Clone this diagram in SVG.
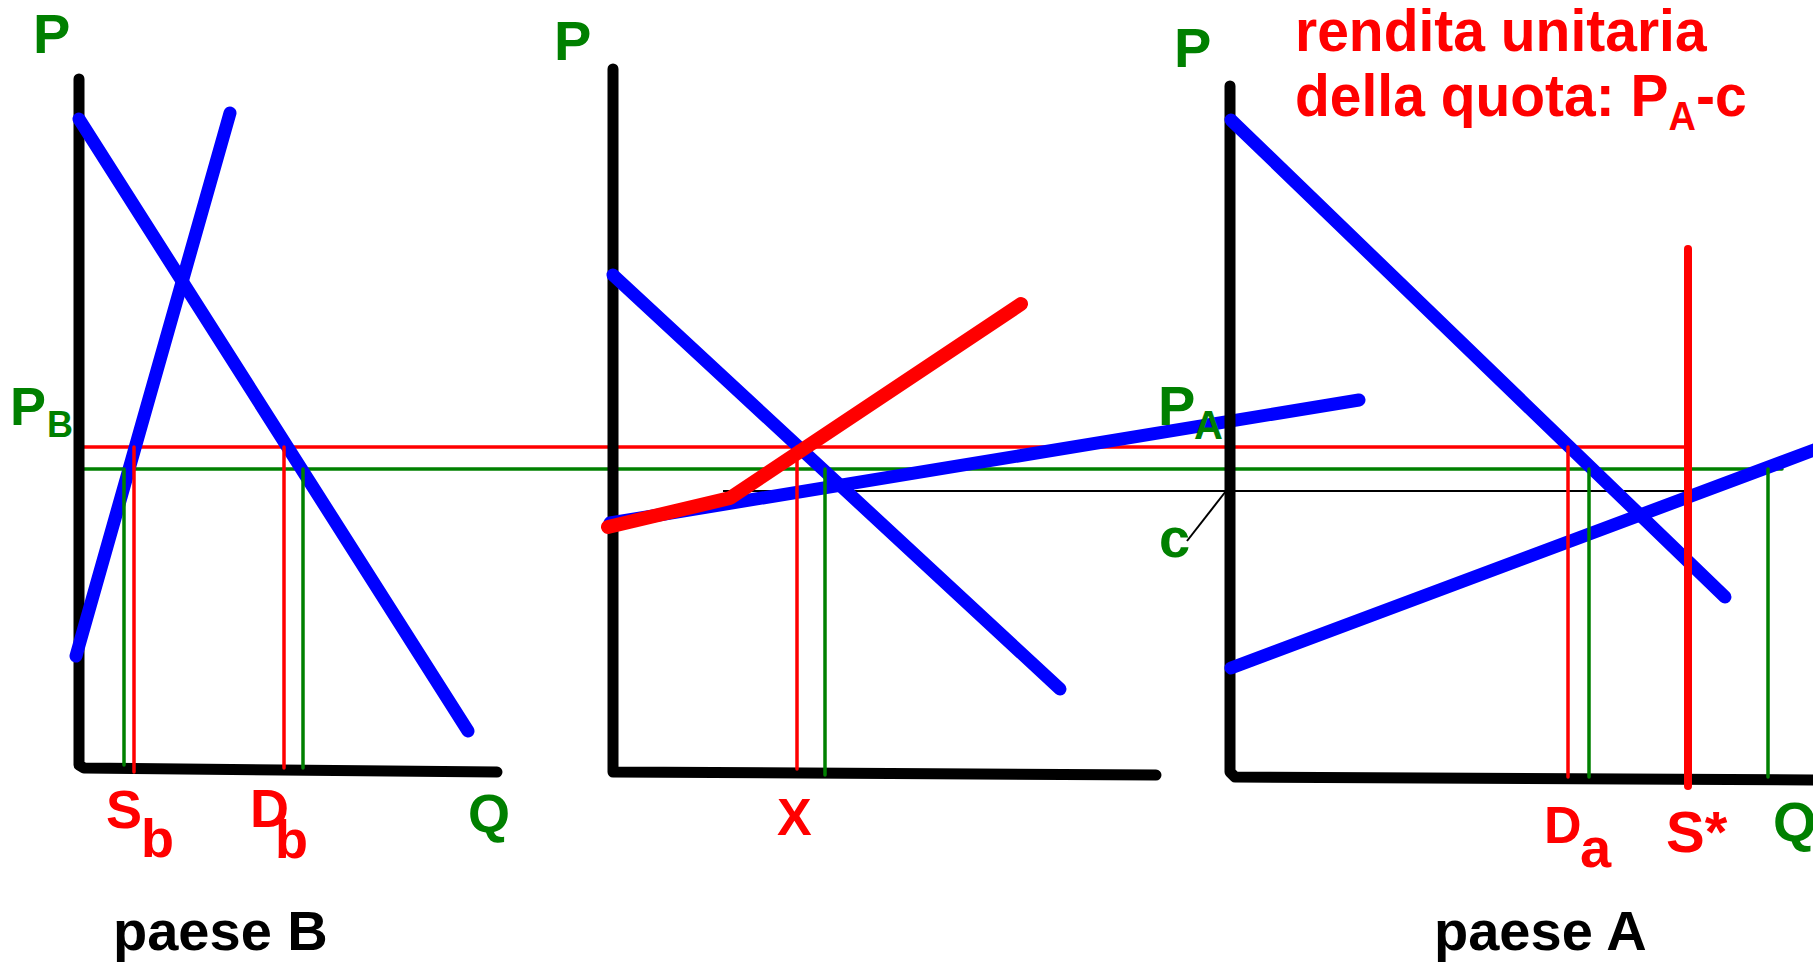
<svg xmlns="http://www.w3.org/2000/svg" width="1813" height="970" viewBox="0 0 1813 970">
<style>
.ax{fill:none;stroke:#000;stroke-width:11;stroke-linecap:round;stroke-linejoin:round}
.bl{fill:none;stroke:#0000FF;stroke-width:13;stroke-linecap:round}
.rk{fill:none;stroke:#FF0000;stroke-width:14;stroke-linecap:round;stroke-linejoin:round}
.rt{fill:none;stroke:#FF0000;stroke-width:3.5;stroke-linecap:round}
.gt{fill:none;stroke:#008000;stroke-width:3.5;stroke-linecap:round}
.kt{fill:none;stroke:#000;stroke-width:2}
text{font-family:"Liberation Sans",Arial,sans-serif;font-weight:bold}
.g{fill:#008000}
.r{fill:#FF0000}
.k{fill:#000}
</style>
<rect width="1813" height="970" fill="#fff"/>
<g id="connectors">
<line class="rt" x1="76" y1="447" x2="1688" y2="447"/>
<line class="gt" x1="83" y1="469" x2="1782" y2="469"/>
<line class="kt" x1="723" y1="491" x2="1688" y2="491"/>
<line class="kt" x1="1187" y1="541" x2="1226" y2="491"/>
</g>
<g id="paese-B">
<path class="ax" d="M79,79 L79,765 L84,768 L497,772"/>
<line class="bl" x1="79" y1="119" x2="468" y2="731"/>
<line class="bl" x1="230" y1="113" x2="76" y2="656"/>
<line class="rt" x1="134" y1="447" x2="134" y2="772"/>
<line class="rt" x1="284" y1="447" x2="284" y2="768"/>
<line class="gt" x1="124" y1="469" x2="124" y2="765"/>
<line class="gt" x1="303" y1="469" x2="303" y2="768"/>
<text class="g" x="33" y="53" font-size="56">P</text>
<text class="g" x="10" y="425" font-size="54">P</text>
<text class="g" x="47" y="437" font-size="36">B</text>
<text class="r" x="106" y="828" font-size="54">S</text>
<text class="r" x="141" y="857" font-size="54">b</text>
<text class="r" x="250" y="827" font-size="54">D</text>
<text class="r" x="275" y="858" font-size="54">b</text>
<text class="g" x="468" y="832" font-size="54">Q</text>
<text class="k" x="113" y="950" font-size="56">paese B</text>
</g>
<g id="mondo">
<path class="ax" d="M613,69 L613,772 L1156,775"/>
<line class="bl" x1="613" y1="275" x2="1060" y2="689"/>
<line class="bl" x1="610" y1="523" x2="1359" y2="400"/>
<polyline class="rk" points="608,527 730,498 1021,304"/>
<line class="rt" x1="797" y1="447" x2="797" y2="769"/>
<line class="gt" x1="825" y1="469" x2="825" y2="775"/>
<text class="g" x="554" y="60" font-size="56">P</text>
<text class="r" x="777" y="835" font-size="52">X</text>
<text class="g" x="1158" y="425" font-size="56">P</text>
<text class="g" x="1194" y="439" font-size="40">A</text>
<text class="g" x="1159" y="557" font-size="56">c</text>
</g>
<g id="paese-A">
<path class="ax" d="M1230,86 L1230,772 L1235,777 L1813,780"/>
<line class="bl" x1="1231" y1="120" x2="1725" y2="597"/>
<line class="bl" x1="1231" y1="668" x2="1830" y2="444"/>
<line class="rt" x1="1568" y1="447" x2="1568" y2="777"/>
<line class="gt" x1="1589" y1="469" x2="1589" y2="777"/>
<line class="gt" x1="1768" y1="469" x2="1768" y2="777"/>
<line x1="1688" y1="249" x2="1688" y2="786" stroke="#FF0000" stroke-width="8" stroke-linecap="round"/>
<text class="g" x="1174" y="67" font-size="56">P</text>
<text class="r" x="1544" y="843" font-size="52">D</text>
<text class="r" x="1580" y="867" font-size="56">a</text>
<text class="r" x="1666" y="852" font-size="58">S*</text>
<text class="g" x="1773" y="841" font-size="56">Q</text>
<text class="k" x="1434" y="950" font-size="56">paese A</text>
<g transform="translate(1295,0) scale(0.95,1)">
<text class="r" x="0" y="51" font-size="60">rendita unitaria</text>
<text class="r" x="0" y="116" font-size="60">della quota: P<tspan font-size="40" dy="14">A</tspan><tspan dy="-14">-c</tspan></text>
</g>
</g>
</svg>
